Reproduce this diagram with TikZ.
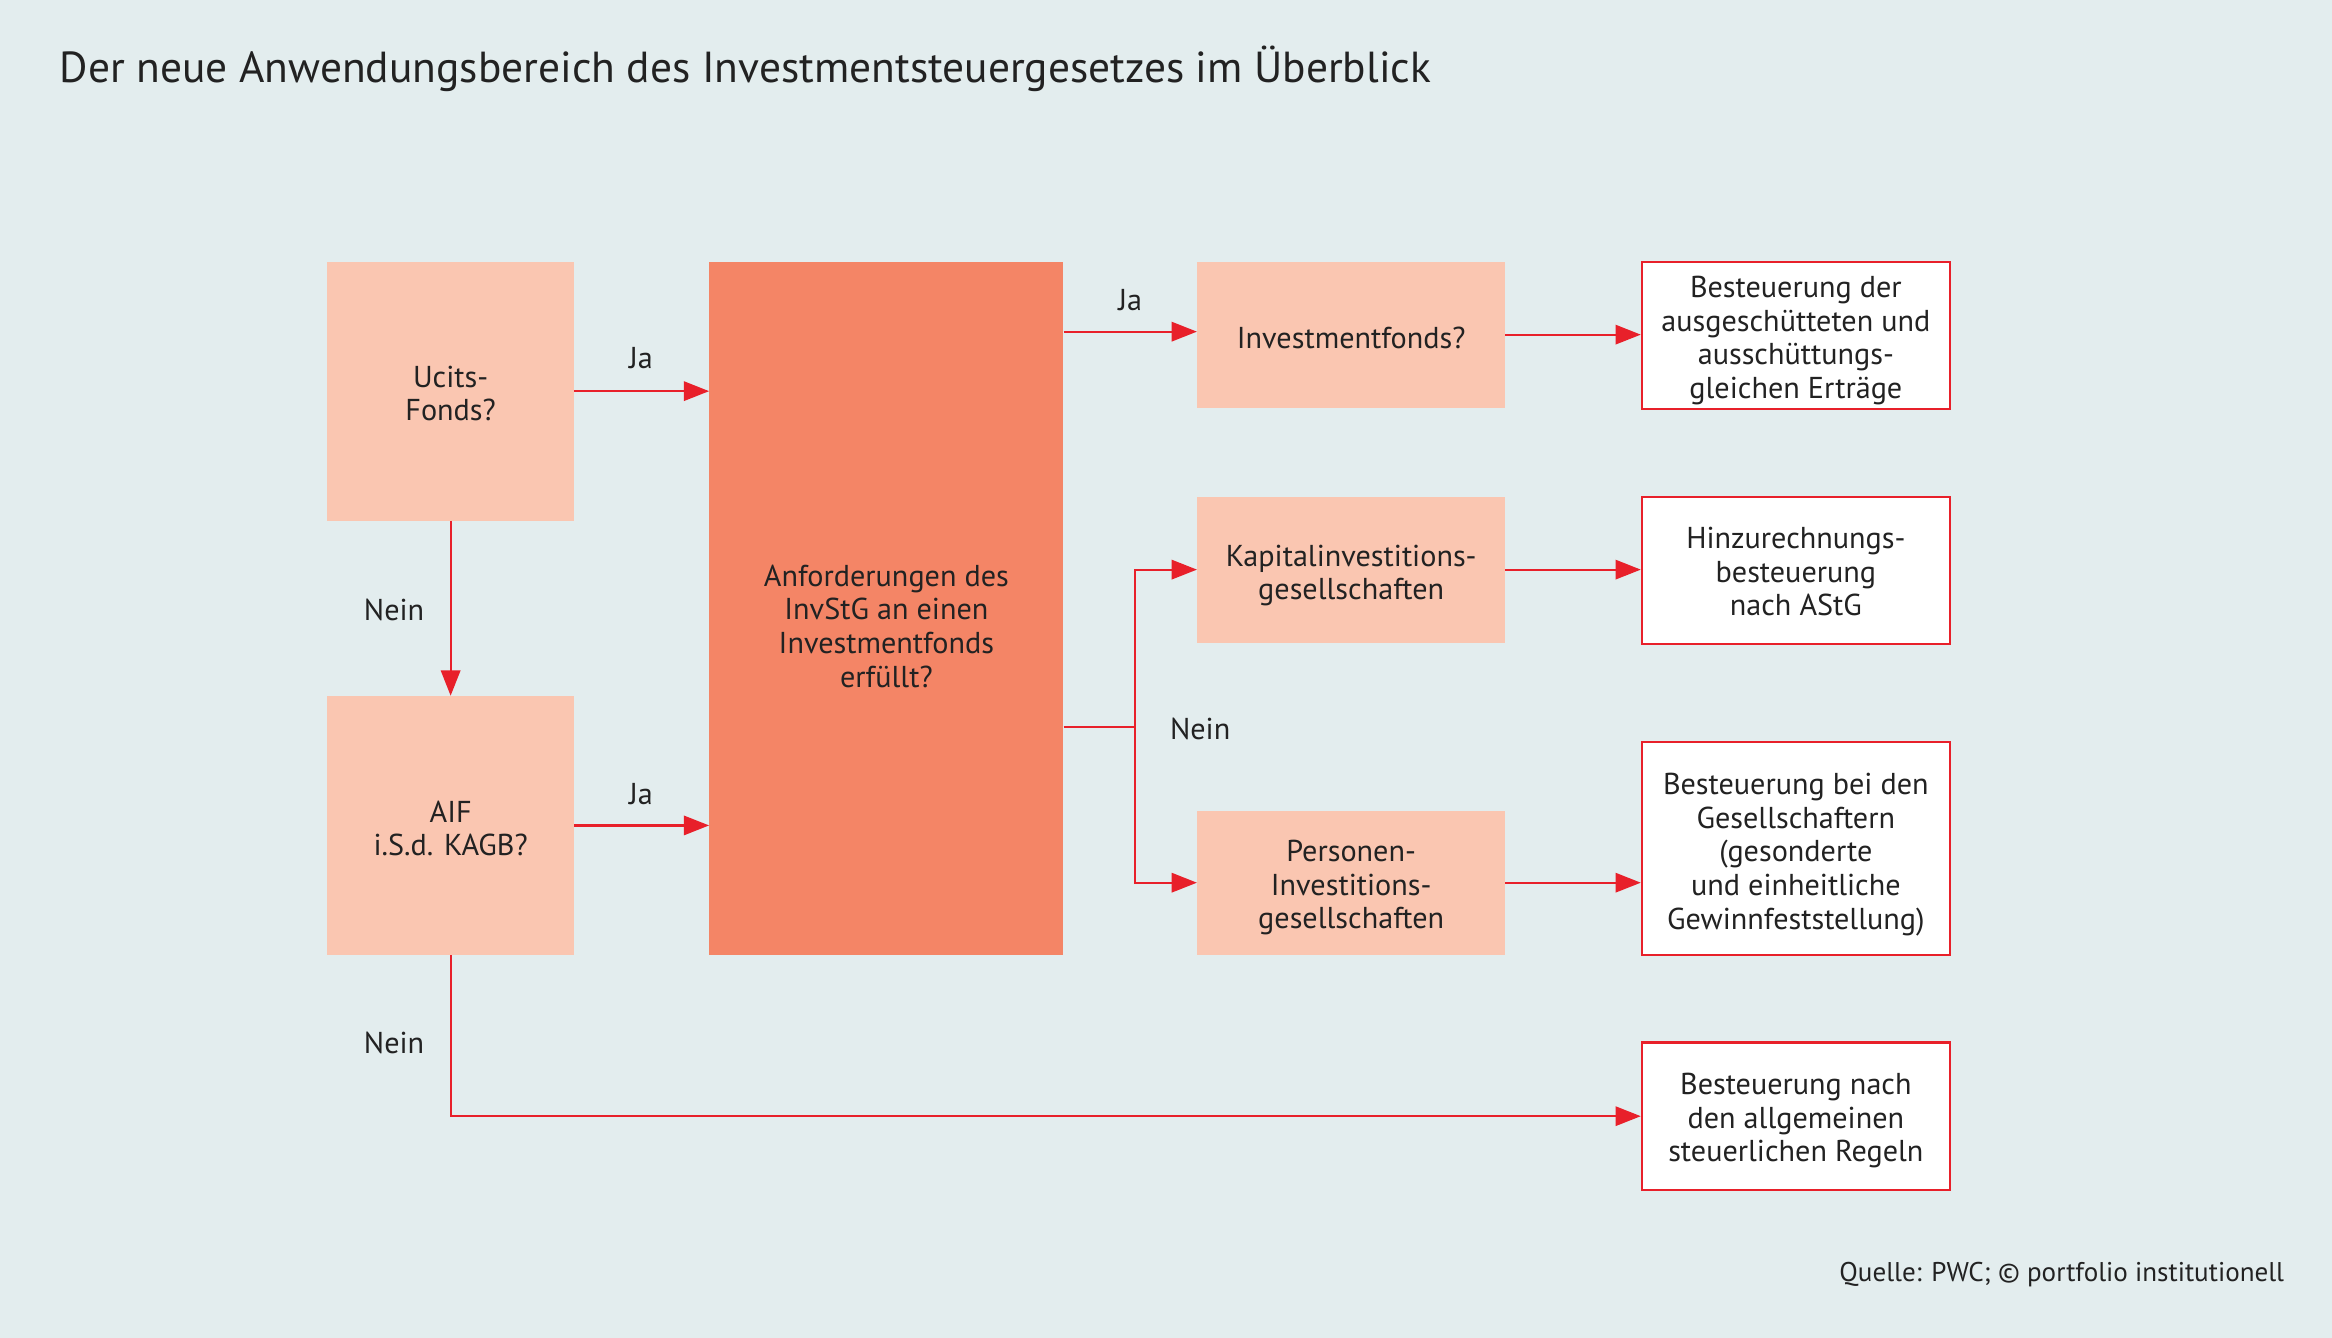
\documentclass[tikz,border=0pt]{standalone}
\usepackage{fontspec}
\setmainfont{PT Sans}
\usetikzlibrary{arrows.meta,calc}
\definecolor{bg}{HTML}{E3EDEE}
\definecolor{lightbox}{HTML}{FAC6B1}
\definecolor{darkbox}{HTML}{F48566}
\definecolor{redline}{HTML}{E8202A}
\definecolor{txt}{HTML}{222222}
\tikzset{
  lbl/.style={font=\fontsize{20.3}{22.6}\selectfont, text=txt, align=center, inner sep=0pt},
  lightnode/.style={fill=lightbox, draw=none, inner sep=0pt},
  darknode/.style={fill=darkbox, draw=none, inner sep=0pt},
  resnode/.style={fill=white, draw=redline, line width=1.5pt, inner sep=0pt},
  arr/.style={draw=redline, line width=1.5pt, -{Triangle[length=17pt,width=13pt]}},
  edgelbl/.style={lbl}
}
\begin{document}
\begin{tikzpicture}[x=1pt,y=-1pt]
\fill[bg] (0,0) rectangle (1568,899.6);
\useasboundingbox (0,0) rectangle (1568,899.6);
\node[lbl, anchor=west, font=\fontsize{29.2}{34}\selectfont] (title) at (40,46) {Der neue Anwendungsbereich des Investmentsteuergesetzes im Überblick};
% left column
\node[lightnode, minimum width=166pt, minimum height=174pt] (ucits) at (303,263) {};
\node[lightnode, minimum width=166pt, minimum height=174pt] (aif) at (303,555) {};
% big box
\node[darknode, minimum width=238pt, minimum height=466pt] (big) at (596,409) {};
% middle column
\node[lightnode, minimum width=207pt, minimum height=98pt] (inv) at (908.5,225) {};
\node[lightnode, minimum width=207pt, minimum height=98pt] (kap) at (908.5,383) {};
\node[lightnode, minimum width=207pt, minimum height=97pt] (pers) at (908.5,593.5) {};
% results
\node[resnode, minimum width=207pt, minimum height=99pt] (r1) at (1207.5,225.5) {};
\node[resnode, minimum width=207pt, minimum height=99pt] (r2) at (1207.5,383.5) {};
\node[resnode, minimum width=207pt, minimum height=143pt] (r3) at (1207.5,570.5) {};
\node[resnode, minimum width=207pt, minimum height=99pt] (r4) at (1207.5,750.5) {};
% box texts
\node[lbl] (ucits-t) at ($(ucits)+(0,1.5)$) {Ucits-\\Fonds?};
\node[lbl] (aif-t) at ($(aif)+(0,2)$) {AIF\\i.S.d. KAGB?};
\node[lbl] (big-t) at ($(big)+(0,12)$) {Anforderungen des\\InvStG an einen\\Investmentfonds\\erfüllt?};
\node[lbl] (inv-t) at ($(inv)+(0,2)$) {Investmentfonds?};
\node[lbl] (kap-t) at ($(kap)+(0,4)$) {Kapitalinvestitions-\\gesellschaften};
\node[lbl] (pers-t) at ($(pers)+(0,3.5)$) {Personen-\\Investitions-\\gesellschaften};
\node[lbl] (r1-t) at ($(r1)+(0,3.5)$) {Besteuerung der\\ausgeschütteten und\\ausschüttungs-\\gleichen Erträge};
\node[lbl] (r2-t) at ($(r2)+(0,1)$) {Hinzurechnungs-\\besteuerung\\nach AStG};
\node[lbl] (r3-t) at ($(r3)+(0,4)$) {Besteuerung bei den\\Gesellschaftern\\(gesonderte\\und einheitliche\\Gewinnfeststellung)};
\node[lbl] (r4-t) at ($(r4)+(0,3)$) {Besteuerung nach\\den allgemeinen\\steuerlichen Regeln};
% connectors
\draw[arr] (ucits.east) -- (ucits.east -| big.west);
\draw[arr] (aif.east) -- (aif.east -| big.west);
\draw[arr] (ucits.south) -- (aif.north);
\draw[arr] (aif.south) |- (r4.west);
\coordinate (ja3) at (715,223);
\draw[arr] (ja3 -| big.east) -- (ja3 -| inv.west);
\coordinate (br) at (763,489);
\draw[arr] (br -| big.east) -- (br) |- (kap.west);
\draw[arr] (br) |- (pers.west);
\draw[arr] (inv.east) -- (r1.west |- inv.east);
\draw[arr] (kap.east) -- (r2.west |- kap.east);
\draw[arr] (pers.east) -- (r3.west |- pers.east);
% edge labels
\node[edgelbl] (l1) at (431,241) {Ja};
\node[edgelbl] (l2) at (431,534) {Ja};
\node[edgelbl] (l3) at (760,202) {Ja};
\node[edgelbl] (l4) at (265,410) {Nein};
\node[edgelbl] (l5) at (265,701) {Nein};
\node[edgelbl] (l6) at (807,490) {Nein};
% footer
\node[lbl, anchor=east, font=\fontsize{18.2}{22}\selectfont] (src) at (1536,857) {Quelle: PWC; © portfolio institutionell};
\end{tikzpicture}
\end{document}
